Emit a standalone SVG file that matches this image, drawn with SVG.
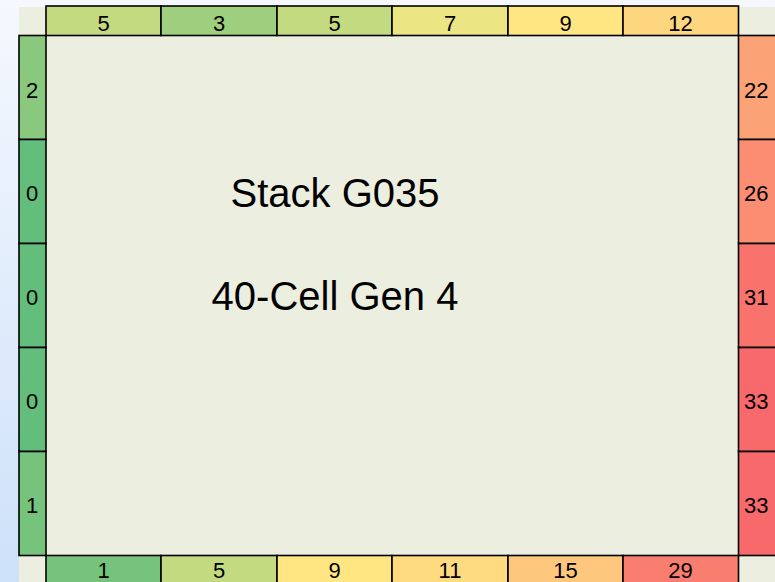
<svg xmlns="http://www.w3.org/2000/svg" width="775" height="582" viewBox="0 0 775 582">
<defs>
<linearGradient id="bg" x1="0" y1="0" x2="0" y2="1">
<stop offset="0" stop-color="#f5f8fe"/>
<stop offset="1" stop-color="#cde1f9"/>
</linearGradient>
</defs>
<style>
.cell{stroke:#000;stroke-width:1.6}
.lbl{font-family:"Liberation Sans",Arial,sans-serif;font-size:22px;fill:#000}
.mid{text-anchor:middle}
.big{font-family:"Liberation Sans",Arial,sans-serif;font-size:40px;fill:#000;text-anchor:middle}
</style>
<rect x="0" y="0" width="775" height="582" fill="url(#bg)"/>
<rect x="19" y="7" width="756" height="575" fill="#eceedf"/>
<g id="center">
<text class="big" x="335" y="207">Stack G035</text>
<text class="big" x="335" y="310">40-Cell Gen 4</text>
</g>
<g id="top">
<g id="t1"><rect class="cell" x="46" y="6" width="115" height="29.5" fill="#c4da80"/><text class="lbl mid" x="103.5" y="31">5</text></g>
<g id="t2"><rect class="cell" x="161" y="6" width="116" height="29.5" fill="#9dcf7e"/><text class="lbl mid" x="219" y="31">3</text></g>
<g id="t3"><rect class="cell" x="277" y="6" width="115" height="29.5" fill="#c4da80"/><text class="lbl mid" x="334.5" y="31">5</text></g>
<g id="t4"><rect class="cell" x="392" y="6" width="116" height="29.5" fill="#ebe583"/><text class="lbl mid" x="450" y="31">7</text></g>
<g id="t5"><rect class="cell" x="508" y="6" width="115" height="29.5" fill="#ffe683"/><text class="lbl mid" x="565.5" y="31">9</text></g>
<g id="t6"><rect class="cell" x="623" y="6" width="115.5" height="29.5" fill="#fed680"/><text class="lbl mid" x="680.5" y="31">12</text></g>
</g>
<g id="left">
<g id="l1"><rect class="cell" x="19" y="35.5" width="27" height="104" fill="#8ac97d"/><text class="lbl mid" x="32" y="97.5">2</text></g>
<g id="l2"><rect class="cell" x="19" y="139.5" width="27" height="104" fill="#63be7b"/><text class="lbl mid" x="32" y="201">0</text></g>
<g id="l3"><rect class="cell" x="19" y="243.5" width="27" height="104" fill="#63be7b"/><text class="lbl mid" x="32" y="304.5">0</text></g>
<g id="l4"><rect class="cell" x="19" y="347.5" width="27" height="104" fill="#63be7b"/><text class="lbl mid" x="32" y="408.5">0</text></g>
<g id="l5"><rect class="cell" x="19" y="451.5" width="27" height="104" fill="#76c47c"/><text class="lbl mid" x="32" y="512.5">1</text></g>
</g>
<g id="right">
<g id="r1"><rect class="cell" x="738.5" y="35.5" width="50" height="104" fill="#fba276"/><text class="lbl" x="744" y="97.5">22</text></g>
<g id="r2"><rect class="cell" x="738.5" y="139.5" width="50" height="104" fill="#fa8d72"/><text class="lbl" x="744" y="201">26</text></g>
<g id="r3"><rect class="cell" x="738.5" y="243.5" width="50" height="104" fill="#f9736d"/><text class="lbl" x="744" y="304.5">31</text></g>
<g id="r4"><rect class="cell" x="738.5" y="347.5" width="50" height="104" fill="#f8696b"/><text class="lbl" x="744" y="408.5">33</text></g>
<g id="r5"><rect class="cell" x="738.5" y="451.5" width="50" height="104" fill="#f8696b"/><text class="lbl" x="744" y="512.5">33</text></g>
</g>
<g id="bottom">
<g id="b1"><rect class="cell" x="46" y="555.5" width="115" height="40" fill="#76c47c"/><text class="lbl mid" x="103.5" y="578">1</text></g>
<g id="b2"><rect class="cell" x="161" y="555.5" width="116" height="40" fill="#c4da80"/><text class="lbl mid" x="219" y="578">5</text></g>
<g id="b3"><rect class="cell" x="277" y="555.5" width="115" height="40" fill="#ffe683"/><text class="lbl mid" x="334.5" y="578">9</text></g>
<g id="b4"><rect class="cell" x="392" y="555.5" width="116" height="40" fill="#fedb81"/><text class="lbl mid" x="450" y="578">11</text></g>
<g id="b5"><rect class="cell" x="508" y="555.5" width="115" height="40" fill="#fdc77d"/><text class="lbl mid" x="565.5" y="578">15</text></g>
<g id="b6"><rect class="cell" x="623" y="555.5" width="115.5" height="40" fill="#f97e6f"/><text class="lbl mid" x="680.5" y="578">29</text></g>
</g>
<g id="connectors"/>
</svg>
